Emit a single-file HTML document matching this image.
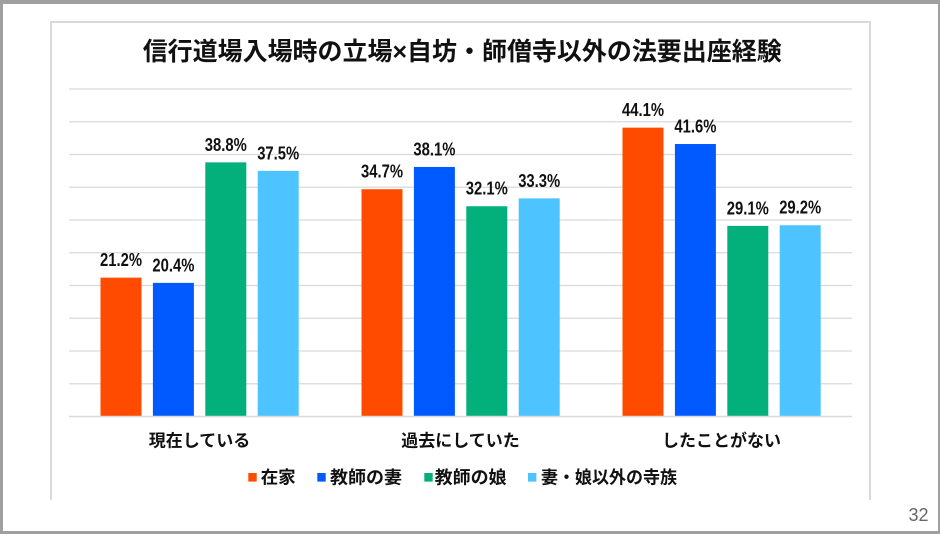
<!DOCTYPE html>
<html>
<head>
<meta charset="utf-8">
<style>
html,body{margin:0;padding:0;background:#fff;}
svg{display:block;}
text{font-family:"Liberation Sans","Noto Sans CJK JP",sans-serif;}
</style>
</head>
<body>
<svg width="940" height="534" viewBox="0 0 940 534" xmlns="http://www.w3.org/2000/svg">
  <!-- outer gray frame -->
  <rect x="0" y="0" width="940" height="534" fill="#a0a0a0"/>
  <rect x="3" y="4" width="935" height="527" fill="#ffffff"/>
  <!-- chart box (no bottom edge) -->
  <path d="M51 500 V22 H870 V500" fill="none" stroke="#d9d9d9" stroke-width="2"/>

  <!-- title -->
  <text x="142.7" y="52" dominant-baseline="central" font-size="25" font-weight="bold" fill="#111" textLength="639" lengthAdjust="spacingAndGlyphs">信行道場入場時の立場×自坊・師僧寺以外の法要出座経験</text>

  <!-- gridlines -->
  <g stroke="#d9d9d9" stroke-width="1.3">
    <line x1="69" x2="852" y1="89" y2="89"/>
    <line x1="69" x2="852" y1="121.75" y2="121.75"/>
    <line x1="69" x2="852" y1="154.5" y2="154.5"/>
    <line x1="69" x2="852" y1="187.25" y2="187.25"/>
    <line x1="69" x2="852" y1="220" y2="220"/>
    <line x1="69" x2="852" y1="252.75" y2="252.75"/>
    <line x1="69" x2="852" y1="285.5" y2="285.5"/>
    <line x1="69" x2="852" y1="318.25" y2="318.25"/>
    <line x1="69" x2="852" y1="351" y2="351"/>
    <line x1="69" x2="852" y1="383.75" y2="383.75"/>
  </g>

  <!-- bars -->
  <g>
    <rect x="100.5" y="277.64" width="41" height="138.86" fill="#FF4B00"/>
    <rect x="152.9" y="282.88" width="41" height="133.62" fill="#005AFF"/>
    <rect x="205.3" y="162.36" width="41" height="254.14" fill="#03AF7A"/>
    <rect x="257.7" y="170.87" width="41" height="245.63" fill="#4DC4FF"/>

    <rect x="361.5" y="189.21" width="41" height="227.29" fill="#FF4B00"/>
    <rect x="413.9" y="166.94" width="41" height="249.56" fill="#005AFF"/>
    <rect x="466.3" y="206.24" width="41" height="210.26" fill="#03AF7A"/>
    <rect x="518.7" y="198.38" width="41" height="218.12" fill="#4DC4FF"/>

    <rect x="622.5" y="127.64" width="41" height="288.86" fill="#FF4B00"/>
    <rect x="674.9" y="144.02" width="41" height="272.48" fill="#005AFF"/>
    <rect x="727.3" y="225.89" width="41" height="190.61" fill="#03AF7A"/>
    <rect x="779.7" y="225.24" width="41" height="191.26" fill="#4DC4FF"/>
  </g>

  <!-- baseline -->
  <line x1="69" x2="852" y1="416.5" y2="416.5" stroke="#d9d9d9" stroke-width="1.5"/>

  <!-- data labels -->
  <g font-size="18" font-weight="bold" fill="#111" text-anchor="middle">
    <text x="121" y="266.1" textLength="42" lengthAdjust="spacingAndGlyphs">21.2%</text>
    <text x="173.4" y="271.4" textLength="42" lengthAdjust="spacingAndGlyphs">20.4%</text>
    <text x="225.8" y="150.9" textLength="42" lengthAdjust="spacingAndGlyphs">38.8%</text>
    <text x="278.2" y="159.4" textLength="42" lengthAdjust="spacingAndGlyphs">37.5%</text>

    <text x="382" y="177.7" textLength="42" lengthAdjust="spacingAndGlyphs">34.7%</text>
    <text x="434.4" y="155.4" textLength="42" lengthAdjust="spacingAndGlyphs">38.1%</text>
    <text x="486.8" y="194.7" textLength="42" lengthAdjust="spacingAndGlyphs">32.1%</text>
    <text x="539.2" y="186.9" textLength="42" lengthAdjust="spacingAndGlyphs">33.3%</text>

    <text x="643" y="116.1" textLength="42" lengthAdjust="spacingAndGlyphs">44.1%</text>
    <text x="695.4" y="132.5" textLength="42" lengthAdjust="spacingAndGlyphs">41.6%</text>
    <text x="747.8" y="214.4" textLength="42" lengthAdjust="spacingAndGlyphs">29.1%</text>
    <text x="800.2" y="213.7" textLength="42" lengthAdjust="spacingAndGlyphs">29.2%</text>
  </g>

  <!-- category labels -->
  <g font-size="17" font-weight="bold" fill="#111" text-anchor="middle" dominant-baseline="central">
    <text x="199.5" y="441">現在している</text>
    <text x="460.5" y="441">過去にしていた</text>
    <text x="721.5" y="441">したことがない</text>
  </g>

  <!-- legend -->
  <rect x="248.3" y="473" width="8.4" height="8.6" fill="#FF4B00"/>
  <rect x="317.3" y="473" width="8.4" height="8.6" fill="#005AFF"/>
  <rect x="424.3" y="473" width="8.4" height="8.6" fill="#03AF7A"/>
  <rect x="528" y="473" width="8.4" height="8.6" fill="#4DC4FF"/>
  <g font-size="17.5" font-weight="bold" fill="#111" dominant-baseline="central">
    <text x="260.7" y="477.5" textLength="35" lengthAdjust="spacingAndGlyphs">在家</text>
    <text x="330" y="477.5" textLength="72" lengthAdjust="spacingAndGlyphs">教師の妻</text>
    <text x="434.7" y="477.5" textLength="72" lengthAdjust="spacingAndGlyphs">教師の娘</text>
    <text x="541" y="477.5" textLength="136" lengthAdjust="spacingAndGlyphs">妻・娘以外の寺族</text>
  </g>

  <!-- page number -->
  <text x="928.5" y="521" font-size="18" fill="#666" text-anchor="end">32</text>
</svg>
</body>
</html>
